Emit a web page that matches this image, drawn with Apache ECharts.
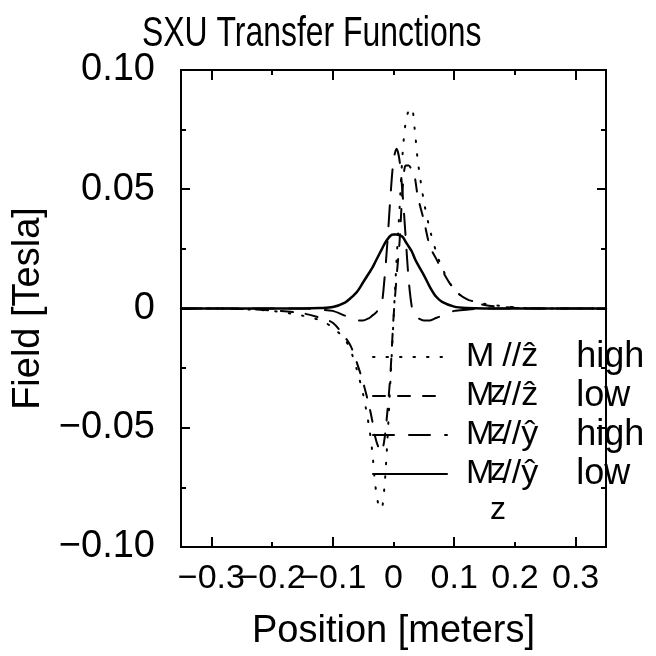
<!DOCTYPE html>
<html>
<head>
<meta charset="utf-8">
<script src="https://cdn.jsdelivr.net/npm/echarts@6/dist/echarts.min.js"></script>
<style>
  html, body { margin: 0; padding: 0; background: #fff; }
  #chart { width: 656px; height: 656px; }
</style>
</head>
<body>
<div id="chart"></div>
<script>
// position along the undulator [m]
const positions = [-0.35, -0.3, -0.25, -0.2, -0.15, -0.12, -0.1, -0.08, -0.07, -0.06,
  -0.05, -0.04, -0.035, -0.03, -0.025, -0.02, -0.015, -0.01, -0.005, 0,
  0.005, 0.01, 0.015, 0.02, 0.025, 0.03, 0.035, 0.04, 0.05, 0.06,
  0.07, 0.08, 0.1, 0.12, 0.15, 0.2, 0.25, 0.3, 0.35];

// Mz // z high (dotted)
const zHigh = [0, 0, -0.0003, -0.001, -0.003, -0.005, -0.008, -0.013, -0.018, -0.026,
  -0.036, -0.05, -0.06, -0.074, -0.082, -0.084, -0.075, -0.055, -0.03, -0.005,
  0.02, 0.042, 0.065, 0.078, 0.083, 0.084, 0.075, 0.062, 0.045, 0.033,
  0.024, 0.017, 0.008, 0.004, 0.002, 0.0005, 0, 0, 0];

// Mz // z low (short dash)
const zLow = [0, 0, -0.0002, -0.0008, -0.002, -0.004, -0.006, -0.012, -0.016, -0.023,
  -0.031, -0.041, -0.047, -0.054, -0.058, -0.06, -0.055, -0.043, -0.027, -0.004,
  0.013, 0.028, 0.05, 0.06, 0.06, 0.058, 0.055, 0.047, 0.037, 0.026,
  0.021, 0.016, 0.008, 0.004, 0.0015, 0.0003, 0, 0, 0];

// Mz // y high (long dash)
const yHigh = [0, 0, 0, 0, 0, -0.0005, -0.001, -0.003, -0.004, -0.005,
  -0.005, -0.004, -0.003, -0.002, -0.0005, 0.001, 0.012, 0.028, 0.047, 0.062,
  0.067, 0.062, 0.048, 0.03, 0.012, 0.001, -0.003, -0.004, -0.005, -0.005,
  -0.004, -0.003, -0.001, -0.0005, 0, 0, 0, 0, 0];

// Mz // y low (solid)
const yLow = [0, 0, 0, 0, 0, 0.0002, 0.0006, 0.0025, 0.0045, 0.007,
  0.011, 0.015, 0.017, 0.0195, 0.022, 0.0245, 0.027, 0.029, 0.0305, 0.031,
  0.031, 0.0307, 0.03, 0.028, 0.026, 0.024, 0.021, 0.0185, 0.014, 0.009,
  0.005, 0.0028, 0.0008, 0.0002, 0, 0, 0, 0, 0];

const seriesNames = ['zHigh', 'zLow', 'yHigh', 'yLow'];
const legendAxis = ['\u1E91', '\u1E91', '\u0177', '\u0177'];
const legendLevel = ['high', 'low', 'high', 'low'];
// labels are split over two axes so that the overlapping ones all stay visible
const xMajorTicks = [-0.3, -0.1, 0.1, 0.3];
const xMinorTicks = [-0.2, 0, 0.2];

// y (px) of each legend row
const legendRowY = [357, 396, 435, 474];

const font = 'Liberation Sans';
const black = '#000';

function pairs(values) {
  return positions.map((p, i) => [p, values[i]]);
}

function minus(s) {
  return s.replace('-', '\u2212');
}

// top/bottom and major/minor ticks are separate x axes on the same scale
function xAxisDef(position, ticks, len, labels, name) {
  return {
    type: 'value',
    position: position,
    min: -0.35,
    max: 0.35,
    axisLine: { show: name, onZero: false, lineStyle: { color: black, width: 2 } },
    axisTick: { show: true, inside: true, length: len, customValues: ticks, lineStyle: { color: black, width: 2 } },
    axisLabel: {
      show: labels,
      customValues: ticks,
      hideOverlap: false,
      fontFamily: font,
      fontSize: 34,
      color: black,
      margin: 15,
      formatter: v => (Math.abs(v) < 1e-9 ? '0' : minus(v.toFixed(1)))
    },
    splitLine: { show: false },
    name: name ? 'Position [meters]' : '',
    nameLocation: 'middle',
    nameGap: 66,
    nameTextStyle: { fontFamily: font, fontSize: 38, color: black }
  };
}

function yAxisDef(position, labels) {
  return {
    type: 'value',
    position: position,
    min: -0.1,
    max: 0.1,
    interval: 0.05,
    axisLine: { show: true, onZero: false, lineStyle: { color: black, width: 2 } },
    axisTick: { show: true, inside: true, length: 9, lineStyle: { color: black, width: 2 } },
    minorTick: { show: true, splitNumber: 2, length: 5, lineStyle: { color: black, width: 2 } },
    axisLabel: {
      show: labels,
      fontFamily: font,
      fontSize: 38,
      color: black,
      margin: 26,
      formatter: v => (Math.abs(v) < 1e-9 ? '0' : minus(v.toFixed(2)))
    },
    splitLine: { show: false },
    name: labels ? 'Field [Tesla]' : '',
    nameLocation: 'middle',
    nameGap: 128,
    nameTextStyle: { fontFamily: font, fontSize: 38, color: black }
  };
}

function lineSeries(name, values, type, width) {
  return {
    name: name,
    type: 'line',
    xAxisIndex: 0,
    yAxisIndex: 0,
    data: pairs(values),
    symbol: 'none',
    smooth: 0.3,
    lineStyle: { color: black, width: width, type: type, cap: 'round' },
    itemStyle: { color: black }
  };
}

// one legend per row: "M" with a subscript z that drops below the row;
// an empty first line keeps the sample line level with the "M"
function legendRow(i) {
  return {
    orient: 'vertical',
    left: 372,
    top: legendRowY[i] - 51,
    itemWidth: 74,
    itemHeight: 4,
    padding: 0,
    data: [seriesNames[i]],
    itemStyle: { opacity: 0 },
    formatter: () => '{e| }\n{m|M}{t|//' + legendAxis[i] + '}{w|' + legendLevel[i] + '}\n{s|z}',
    textStyle: {
      color: black,
      padding: [0, 0, 0, 14],
      rich: {
        e: { fontFamily: font, fontSize: 30, lineHeight: 36, color: black },
        m: { fontFamily: font, fontSize: 34, lineHeight: 36, color: black },
        t: { fontFamily: font, fontSize: 34, lineHeight: 36, color: black, padding: [0, 0, 0, 8] },
        w: { fontFamily: font, fontSize: 36, lineHeight: 36, color: black, padding: [0, 0, 0, 38] },
        s: { fontFamily: font, fontSize: 32, lineHeight: 36, color: black, padding: [0, 0, 0, 24] }
      }
    }
  };
}

const chart = echarts.init(document.getElementById('chart'), null, { renderer: 'canvas' });

chart.setOption({
  backgroundColor: '#fff',
  animation: false,
  graphic: [{
    type: 'text',
    left: 142,
    top: 13,
    scaleX: 0.76,
    style: {
      text: 'SXU Transfer Functions',
      font: '42px "Liberation Sans"',
      fill: black
    }
  }],
  grid: {
    left: 181, right: 50, top: 70, bottom: 109,
    show: true, borderColor: black, borderWidth: 2, backgroundColor: 'transparent'
  },
  xAxis: [
    xAxisDef('bottom', xMajorTicks, 10, true, true),
    xAxisDef('top', xMajorTicks, 10, false, false),
    xAxisDef('bottom', xMinorTicks, 5, true, false),
    xAxisDef('top', xMinorTicks, 5, false, false)
  ],
  yAxis: [yAxisDef('left', true), yAxisDef('right', false)],
  legend: seriesNames.map((n, i) => legendRow(i)),
  series: [
    lineSeries('zHigh', zHigh, [1.5, 12], 2),
    lineSeries('zLow', zLow, [12, 13], 2),
    lineSeries('yHigh', yHigh, [21, 15], 2),
    lineSeries('yLow', yLow, 'solid', 2.5)
  ]
});
</script>
</body>
</html>
